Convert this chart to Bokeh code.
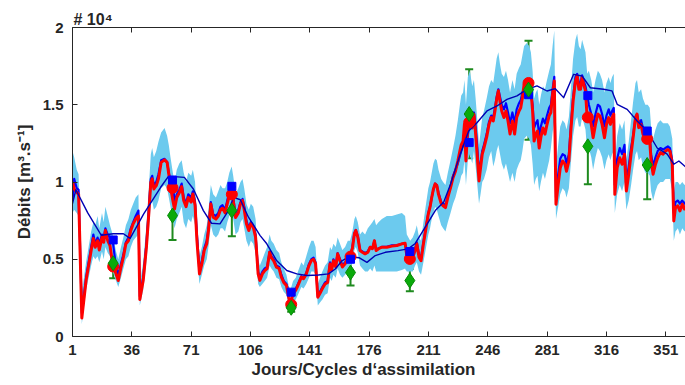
import numpy as np
from bokeh.plotting import figure
from bokeh.models import (ColumnDataSource, FixedTicker, LinearAxis, Range1d, Title,
                          Whisker, TeeHead, CustomJSTickFormatter)
from bokeh.embed import file_html
from bokeh.resources import INLINE

# ---------------- data (discharge in units of 10^4 m3/s) ----------------
days = [1, 2, 3.5, 4.6, 6.5, 9, 12, 13.3, 14.4, 15.8,
        16.8, 18.4, 19.4, 20.4, 21.8, 23.1, 24.7, 26.7, 28, 29.6,
        31, 32.5, 34, 35.4, 36.8, 38.3, 39.9, 40.7, 42.7, 44.6,
        46, 47.2, 48, 49, 50.4, 51.7, 53.3, 55.3, 56.8, 57.8,
        58.8, 60.2, 61.2, 62.5, 64, 65.4, 66.6, 68, 69.3, 71,
        72, 73.3, 74.4, 75.9, 77.3, 78.7, 80.2, 81.2, 82.6, 84,
        85.6, 87, 88.3, 89.5, 91, 92.3, 93.5, 94.9, 95.8, 97.2,
        98.8, 100.1, 101.3, 102.3, 103.6, 105, 106.2, 107.6, 109, 110.5,
        111.5, 113, 114.4, 115.8, 117.3, 118.3, 119.7, 121.3, 122.9, 124.2,
        125.6, 127.2, 128.5, 129.5, 131.1, 132.7, 134, 136, 137.3, 138.9,
        140.5, 141.9, 143.2, 144.4, 145.7, 147, 148.4, 150, 151.5, 152.9,
        153.9, 154.9, 156.3, 157.4, 158.8, 160.2, 161.8, 163.4, 164.7, 166.1,
        167.3, 168.1, 169.3, 170.6, 172, 173.6, 175.2, 176.6, 177.9, 179.1,
        180.1, 181.5, 183.5, 186.4, 189.4, 192.3, 195.3, 197.2, 198.2, 200.2,
        201.7, 203.1, 204.1, 205.4, 206.6, 208, 209.3, 210.9, 211.9, 212.9,
        213.9, 214.9, 215.9, 216.9, 218.5, 219.6, 221, 222.4, 224, 225.5,
        226.9, 228.3, 229.5, 230.3, 231.4, 232.2, 233.1, 234.2, 235.4, 236.8,
        237.8, 238.8, 239.8, 240.8, 241.7, 242.7, 243.7, 245.3, 246.7, 248,
        249.2, 250.2, 251.2, 252.2, 253.2, 254.2, 255.5, 256.7, 257.9, 259.1,
        260.5, 261.8, 263, 264.4, 265.4, 266.4, 267.4, 269, 270.4, 271.4,
        272.4, 273.3, 274.3, 275.3, 276.3, 277.3, 278.5, 279.7, 280.9, 282.2,
        283.2, 284.2, 285.2, 286.2, 287.5, 288.7, 290.1, 291.5, 292.4, 293.8,
        295.1, 296.3, 297.7, 298.7, 299.7, 300.7, 301.6, 302.6, 303.6, 304.6,
        305.6, 307, 308.1, 309.5, 310.9, 312.1, 313.4, 314.8, 316, 317.3,
        318.3, 319.3, 320.3, 320.9, 322.3, 323.8, 325.2, 326.6, 327.7, 329.1,
        330.5, 331.7, 333.1, 334, 335, 336.4, 337.5, 338.9, 340.3, 341.5,
        342.3, 343.5, 344.9, 346.2, 347.8, 349.4, 350.8, 352.2, 353.4, 354.8,
        355.7, 356.7, 358.1, 359.3, 360.7, 362, 363.5]

analysis_red = [1.00, 0.955, 0.933, 0.92, 0.12, 0.362, 0.556, 0.634, 0.578, 0.62,
        0.56, 0.642, 0.61, 0.686, 0.62, 0.589, 0.47, 0.405, 0.362, 0.448,
        0.513, 0.60, 0.62, 0.686, 0.729, 0.76, 0.78, 0.24, 0.362, 0.578,
        0.794, 0.998, 1.02, 0.955, 0.976, 1.02, 1.127, 1.143, 1.127, 1.052,
        0.97, 0.88, 0.825, 0.90, 0.93, 0.97, 0.88, 0.84, 0.90, 0.87,
        0.923, 0.85, 0.62, 0.405, 0.47, 0.556, 0.60, 0.686, 0.858, 0.772,
        0.76, 0.78, 0.82, 0.83, 0.80, 0.86, 0.912, 0.955, 0.88, 0.77,
        0.80, 0.86, 0.88, 0.82, 0.729, 0.686, 0.73, 0.71, 0.643, 0.405,
        0.363, 0.405, 0.427, 0.44, 0.545, 0.51, 0.49, 0.449, 0.44, 0.384,
        0.35, 0.33, 0.254, 0.211, 0.276, 0.30, 0.33, 0.384, 0.374, 0.405,
        0.459, 0.492, 0.50, 0.47, 0.254, 0.28, 0.31, 0.34, 0.35, 0.47,
        0.43, 0.49, 0.45, 0.535, 0.49, 0.45, 0.47, 0.51, 0.524, 0.57,
        0.664, 0.686, 0.643, 0.556, 0.545, 0.535, 0.545, 0.578, 0.568, 0.62,
        0.556, 0.568, 0.578, 0.578, 0.585, 0.589, 0.60, 0.603, 0.524, 0.496,
        0.513, 0.556, 0.60, 0.513, 0.49, 0.60, 0.686, 0.794, 0.837, 0.90,
        0.955, 0.988, 0.977, 0.92, 0.86, 0.846, 0.834, 0.90, 0.964, 1.03,
        1.07, 1.136, 1.20, 1.24, 1.265, 1.373, 1.136, 1.373, 1.417, 1.35,
        1.438, 1.31, 1.16, 1.007, 1.09, 1.18, 1.22, 1.29, 1.373, 1.417,
        1.395, 1.46, 1.535, 1.59, 1.52, 1.46, 1.417, 1.46, 1.395, 1.31,
        1.395, 1.31, 1.417, 1.46, 1.48, 1.546, 1.632, 1.64, 1.632, 1.60,
        1.46, 1.265, 1.31, 1.33, 1.22, 1.29, 1.35, 1.31, 1.373, 1.43,
        1.45, 1.567, 1.654, 0.856, 0.985, 1.09, 1.136, 1.115, 1.07, 1.136,
        1.352, 1.524, 1.654, 1.686, 1.60, 1.60, 1.676, 1.63, 1.59, 1.417,
        1.44, 1.373, 1.287, 1.373, 1.44, 1.428, 1.373, 1.287, 1.373, 1.417,
        1.373, 1.417, 1.44, 0.92, 1.093, 1.157, 1.115, 1.18, 0.942, 1.05,
        1.18, 1.287, 1.417, 1.44, 1.352, 1.373, 1.31, 1.265, 1.28, 1.265,
        1.136, 1.05, 1.115, 1.157, 1.19, 1.18, 1.20, 1.21, 1.20, 1.115,
        0.748, 0.834, 0.846, 0.813, 0.856, 0.825, 0.86]

forecast_blue = [0.88, 1.02, 0.96, 0.95, 0.15, 0.38, 0.58, 0.66, 0.60, 0.64,
        0.60, 0.66, 0.64, 0.70, 0.66, 0.64, 0.62, 0.45, 0.40, 0.47,
        0.53, 0.61, 0.64, 0.70, 0.74, 0.78, 0.815, 0.26, 0.38, 0.60,
        0.82, 1.02, 1.04, 0.98, 1.00, 1.05, 1.14, 1.15, 1.13, 1.06,
        1.00, 1.01, 0.86, 0.92, 0.95, 0.99, 0.90, 0.86, 0.92, 0.90,
        0.94, 0.87, 0.66, 0.43, 0.49, 0.57, 0.62, 0.70, 0.87, 0.79,
        0.78, 0.80, 0.84, 0.85, 0.82, 0.88, 0.94, 0.972, 0.90, 0.79,
        0.82, 0.87, 0.89, 0.84, 0.75, 0.70, 0.74, 0.72, 0.66, 0.42,
        0.38, 0.42, 0.44, 0.45, 0.55, 0.52, 0.50, 0.46, 0.45, 0.40,
        0.36, 0.34, 0.29, 0.287, 0.29, 0.31, 0.34, 0.39, 0.38, 0.41,
        0.47, 0.50, 0.51, 0.48, 0.26, 0.29, 0.32, 0.35, 0.36, 0.48,
        0.44, 0.50, 0.46, 0.54, 0.50, 0.46, 0.48, 0.51, 0.50, 0.58,
        0.67, 0.69, 0.65, 0.56, 0.55, 0.54, 0.55, 0.58, 0.57, 0.62,
        0.56, 0.57, 0.58, 0.58, 0.59, 0.59, 0.60, 0.60, 0.56, 0.55,
        0.54, 0.57, 0.61, 0.53, 0.51, 0.61, 0.70, 0.80, 0.84, 0.90,
        0.95, 0.99, 0.98, 0.93, 0.87, 0.86, 0.85, 0.91, 0.97, 1.04,
        1.08, 1.12, 1.17, 1.20, 1.24, 1.30, 1.18, 1.30, 1.40, 1.38,
        1.45, 1.36, 1.22, 1.06, 1.12, 1.20, 1.24, 1.31, 1.39, 1.43,
        1.42, 1.48, 1.55, 1.60, 1.55, 1.50, 1.47, 1.51, 1.45, 1.38,
        1.45, 1.38, 1.47, 1.51, 1.53, 1.58, 1.60, 1.57, 1.60, 1.58,
        1.50, 1.35, 1.38, 1.40, 1.30, 1.36, 1.41, 1.38, 1.43, 1.48,
        1.50, 1.60, 1.68, 0.90, 1.05, 1.15, 1.18, 1.17, 1.12, 1.18,
        1.38, 1.55, 1.68, 1.70, 1.64, 1.64, 1.69, 1.65, 1.62, 1.56,
        1.50, 1.44, 1.36, 1.44, 1.50, 1.49, 1.44, 1.36, 1.43, 1.47,
        1.43, 1.46, 1.48, 0.98, 1.15, 1.22, 1.18, 1.24, 1.00, 1.10,
        1.22, 1.30, 1.42, 1.44, 1.38, 1.40, 1.35, 1.31, 1.30, 1.30,
        1.18, 1.10, 1.16, 1.20, 1.22, 1.21, 1.22, 1.23, 1.22, 1.14,
        0.80, 0.87, 0.88, 0.86, 0.88, 0.86, 0.88]

ens_low = [0.80, 0.82, 0.80, 0.78, 0.08, 0.30, 0.46, 0.52, 0.50, 0.52,
        0.48, 0.55, 0.50, 0.58, 0.54, 0.52, 0.42, 0.36, 0.32, 0.38,
        0.44, 0.50, 0.52, 0.58, 0.62, 0.64, 0.66, 0.20, 0.30, 0.48,
        0.68, 0.86, 0.88, 0.82, 0.84, 0.88, 0.96, 0.98, 0.96, 0.90,
        0.84, 0.76, 0.70, 0.76, 0.80, 0.84, 0.74, 0.70, 0.76, 0.74,
        0.78, 0.72, 0.52, 0.34, 0.40, 0.46, 0.50, 0.58, 0.72, 0.66,
        0.64, 0.66, 0.70, 0.70, 0.68, 0.74, 0.78, 0.82, 0.76, 0.66,
        0.68, 0.74, 0.76, 0.70, 0.62, 0.58, 0.62, 0.60, 0.54, 0.34,
        0.32, 0.34, 0.36, 0.38, 0.46, 0.44, 0.42, 0.38, 0.37, 0.32,
        0.29, 0.27, 0.20, 0.17, 0.22, 0.24, 0.27, 0.32, 0.31, 0.34,
        0.38, 0.42, 0.42, 0.40, 0.20, 0.22, 0.24, 0.27, 0.28, 0.38,
        0.36, 0.40, 0.38, 0.44, 0.40, 0.38, 0.40, 0.42, 0.44, 0.48,
        0.56, 0.58, 0.54, 0.46, 0.44, 0.42, 0.42, 0.44, 0.42, 0.46,
        0.42, 0.42, 0.42, 0.42, 0.42, 0.42, 0.43, 0.44, 0.42, 0.42,
        0.42, 0.46, 0.48, 0.42, 0.40, 0.48, 0.56, 0.66, 0.70, 0.76,
        0.80, 0.84, 0.82, 0.78, 0.72, 0.70, 0.68, 0.74, 0.80, 0.86,
        0.90, 0.96, 1.00, 1.04, 1.06, 1.14, 0.98, 1.14, 1.18, 1.12,
        1.20, 1.10, 0.98, 0.86, 0.92, 1.00, 1.02, 1.08, 1.16, 1.20,
        1.10, 1.14, 1.20, 1.24, 1.18, 1.12, 1.08, 1.12, 1.06, 1.00,
        1.06, 1.00, 1.08, 1.12, 1.14, 1.20, 1.28, 1.30, 1.28, 1.24,
        1.12, 0.98, 1.02, 1.04, 0.94, 1.00, 1.06, 1.02, 1.08, 1.14,
        1.22, 1.32, 1.40, 0.76, 0.84, 0.92, 0.96, 0.94, 0.90, 0.96,
        1.14, 1.30, 1.40, 1.42, 1.36, 1.36, 1.42, 1.38, 1.34, 1.20,
        1.22, 1.16, 1.08, 1.16, 1.22, 1.20, 1.16, 1.08, 1.14, 1.18,
        1.14, 1.18, 1.20, 0.80, 0.92, 0.98, 0.94, 1.00, 0.82, 0.88,
        0.98, 1.08, 1.18, 1.20, 1.14, 1.16, 1.10, 1.06, 1.06, 1.04,
        0.94, 0.88, 0.94, 0.98, 1.00, 1.00, 1.02, 1.02, 1.02, 0.94,
        0.62, 0.68, 0.70, 0.66, 0.70, 0.68, 0.70]

ens_high = [1.20, 1.16, 1.08, 1.05, 0.28, 0.48, 0.68, 0.74, 0.72, 0.78,
        0.70, 0.80, 0.74, 0.84, 0.78, 0.72, 0.66, 0.55, 0.50, 0.58,
        0.64, 0.72, 0.76, 0.82, 0.86, 0.90, 0.92, 0.34, 0.48, 0.72,
        0.96, 1.18, 1.22, 1.16, 1.20, 1.26, 1.32, 1.35, 1.30, 1.24,
        1.16, 1.06, 1.00, 1.08, 1.12, 1.14, 1.06, 1.00, 1.06, 1.04,
        1.08, 1.00, 0.74, 0.52, 0.58, 0.66, 0.72, 0.82, 0.98, 0.92,
        0.90, 0.94, 0.98, 0.96, 0.96, 1.00, 1.06, 1.10, 1.04, 0.92,
        0.96, 1.00, 1.02, 0.96, 0.86, 0.82, 0.86, 0.84, 0.76, 0.50,
        0.46, 0.50, 0.54, 0.58, 0.66, 0.62, 0.60, 0.56, 0.54, 0.48,
        0.44, 0.40, 0.33, 0.30, 0.36, 0.38, 0.42, 0.48, 0.46, 0.52,
        0.58, 0.62, 0.62, 0.58, 0.34, 0.38, 0.42, 0.46, 0.48, 0.58,
        0.56, 0.60, 0.58, 0.64, 0.60, 0.56, 0.58, 0.62, 0.62, 0.68,
        0.76, 0.78, 0.74, 0.66, 0.68, 0.66, 0.70, 0.72, 0.74, 0.76,
        0.72, 0.74, 0.76, 0.78, 0.78, 0.79, 0.80, 0.78, 0.66, 0.62,
        0.64, 0.68, 0.72, 0.64, 0.62, 0.74, 0.84, 0.96, 1.00, 1.06,
        1.12, 1.15, 1.14, 1.08, 1.02, 1.00, 0.98, 1.06, 1.14, 1.22,
        1.30, 1.40, 1.50, 1.56, 1.58, 1.66, 1.50, 1.68, 1.72, 1.62,
        1.66, 1.54, 1.40, 1.24, 1.32, 1.42, 1.46, 1.54, 1.62, 1.66,
        1.64, 1.72, 1.80, 1.84, 1.76, 1.70, 1.68, 1.72, 1.66, 1.58,
        1.66, 1.60, 1.70, 1.74, 1.76, 1.82, 1.88, 1.90, 1.88, 1.84,
        1.72, 1.54, 1.58, 1.60, 1.50, 1.56, 1.62, 1.60, 1.66, 1.72,
        1.76, 1.88, 1.98, 1.10, 1.24, 1.36, 1.40, 1.38, 1.34, 1.42,
        1.62, 1.80, 1.92, 1.96, 1.88, 1.86, 1.92, 1.88, 1.84, 1.70,
        1.72, 1.66, 1.58, 1.66, 1.72, 1.70, 1.66, 1.58, 1.64, 1.68,
        1.64, 1.68, 1.70, 1.12, 1.30, 1.38, 1.34, 1.40, 1.14, 1.26,
        1.40, 1.52, 1.64, 1.66, 1.58, 1.60, 1.54, 1.50, 1.50, 1.48,
        1.36, 1.28, 1.34, 1.38, 1.40, 1.38, 1.38, 1.38, 1.36, 1.28,
        0.92, 1.00, 1.00, 0.98, 1.00, 0.98, 1.00]

clim_days = [1, 3, 10, 18, 25, 31, 35, 43, 53, 57.5,
             61, 67, 72.3, 78.2, 83, 88, 93, 96, 100, 104.8,
             111.7, 115.6, 121.5, 127.4, 133.3, 139.3, 146, 152, 156, 160,
             164, 170, 174.7, 179.6, 185.5, 193, 199, 203, 209, 215,
             220, 224, 229.7, 234.7, 239.6, 245.5, 251.4, 257.3, 263.2, 269.1,
             275, 280.9, 285.8, 290.7, 296.6, 301.6, 306.5, 314.3, 319.2, 322.3,
             328.2, 334.1, 340, 345.9, 351.8, 355.7, 358.7, 363.5]
clim_values = [0.86, 0.95, 0.80, 0.655, 0.665, 0.665, 0.635, 0.794, 0.966, 1.035,
               1.035, 1.03, 0.955, 0.815, 0.733, 0.729, 0.815, 0.90, 0.885, 0.772,
               0.653, 0.60, 0.49, 0.427, 0.405, 0.395, 0.398, 0.405, 0.437, 0.49,
               0.517, 0.51, 0.48, 0.524, 0.545, 0.556, 0.567, 0.60, 0.707, 0.815,
               0.87, 0.985, 1.18, 1.33, 1.384, 1.46, 1.492, 1.535, 1.557, 1.60,
               1.622, 1.589, 1.604, 1.546, 1.697, 1.686, 1.61, 1.60, 1.59, 1.503,
               1.47, 1.395, 1.33, 1.22, 1.18, 1.115, 1.136, 1.09]

obs_days = [25, 60, 95, 130, 165, 200, 235, 270, 305, 340]
obs_values = [0.474, 0.783, 0.815, 0.186, 0.414, 0.362, 1.44, 1.598, 1.231, 1.11]
obs_lower = [0.377, 0.625, 0.649, 0.16, 0.33, 0.293, 1.153, 1.274, 0.985, 0.888]
obs_upper = [0.634, 0.938, 0.97, 0.215, 0.50, 0.438, 1.729, 1.915, 1.477, 1.334]
red_marks = [0.453, 0.962, 0.92, 0.207, 0.517, 0.502, 1.386, 1.641, 1.418, 1.279]
blue_marks = [0.625, 1.013, 0.972, 0.287, 0.50, 0.55, 1.255, 1.565, 1.559, 1.33]

x_ticks = [1, 36, 71, 106, 141, 176, 211, 246, 281, 316, 351]
y_ticks = [0, 0.5, 1, 1.5, 2]

# ---------------- styling ----------------
FONT = "Liberation Sans"
AX = "#262626"
BAND = "#6CCAEE"
RED = "#FF0000"
BLUE = "#0000FF"
NAVY = "#0000B4"
GREEN = "#0AAA0A"
DGREEN = "#1E8A1E"

p = figure(width=685, height=385, output_backend="svg", toolbar_location=None,
           x_range=Range1d(1, 362.6), y_range=Range1d(0, 2),
           min_border_left=72, min_border_right=0, min_border_top=27,
           min_border_bottom=49, background_fill_color="white",
           border_fill_color="white")
p.outline_line_color = None
p.xgrid.grid_line_color = None
p.ygrid.grid_line_color = None

for ax in (p.xaxis[0], p.yaxis[0]):
    ax.axis_line_color = AX
    ax.axis_line_width = 1
    ax.major_tick_line_color = AX
    ax.major_tick_in = 5
    ax.major_tick_out = 0
    ax.minor_tick_line_color = None
    ax.major_label_text_font = FONT
    ax.major_label_text_font_style = "bold"
    ax.major_label_text_font_size = "15px"
    ax.major_label_text_color = AX

p.xaxis.ticker = FixedTicker(ticks=x_ticks)
p.xaxis.major_label_standoff = 8
p.yaxis.ticker = FixedTicker(ticks=y_ticks)
p.yaxis.formatter = CustomJSTickFormatter(code="return tick.toString()")
p.yaxis.major_label_standoff = 9
p.yaxis.axis_label = "Débits [m³.s⁻¹]"
p.yaxis.axis_label_text_font = FONT
p.yaxis.axis_label_text_font_style = "bold"
p.yaxis.axis_label_text_font_size = "17px"
p.yaxis.axis_label_text_color = AX
p.yaxis.axis_label_standoff = 6

top = LinearAxis(ticker=FixedTicker(ticks=x_ticks), axis_line_color=AX,
                 major_tick_line_color=AX, major_tick_in=5, major_tick_out=0,
                 minor_tick_line_color=None, major_label_text_font_size="1px",
                 major_label_text_color=None, major_label_standoff=0)
p.add_layout(top, "above")

src = ColumnDataSource(dict(day=days, red=analysis_red, blue=forecast_blue,
                            lo=ens_low, hi=ens_high))
p.varea(x="day", y1="lo", y2="hi", source=src, fill_color=BAND, fill_alpha=1.0)
p.line(x="day", y="blue", source=src, line_color=BLUE, line_width=2.2, line_join="round")
p.line(x="day", y="red", source=src, line_color=RED, line_width=3, line_join="round")
p.line(clim_days, clim_values, line_color=NAVY, line_width=1.4, line_join="round")

osrc = ColumnDataSource(dict(day=obs_days, val=obs_values, lo=obs_lower, hi=obs_upper,
                             r=red_marks, b=blue_marks))
p.scatter(x="day", y="r", source=osrc, marker="circle", size=11,
          fill_color=RED, line_color=RED)
p.scatter(x="day", y="b", source=osrc, marker="square", size=8,
          fill_color=BLUE, line_color=BLUE)
p.add_layout(Whisker(source=osrc, base="day", lower="lo", upper="hi",
                     line_color=DGREEN, line_width=2,
                     upper_head=TeeHead(size=8, line_color=DGREEN, line_width=2),
                     lower_head=TeeHead(size=8, line_color=DGREEN, line_width=2)))
p.scatter(x="day", y="val", source=osrc, marker="diamond", size=15,
          fill_color=GREEN, line_color="#078A07", line_width=1)

# ---------------- texts outside the frame (titles) ----------------
p.add_layout(Title(text="Jours/Cycles d\u2018assimilation", align="left", offset=179,
                   standoff=0, text_font=FONT, text_font_style="bold",
                   text_font_size="17px", text_color=AX), "below")
p.add_layout(Title(text="# 10\u2074", align="left", offset=1, standoff=0,
                   text_font=FONT, text_font_style="bold", text_font_size="16px",
                   text_color=AX), "above")

open("out.html", "w").write(file_html(p, INLINE))
